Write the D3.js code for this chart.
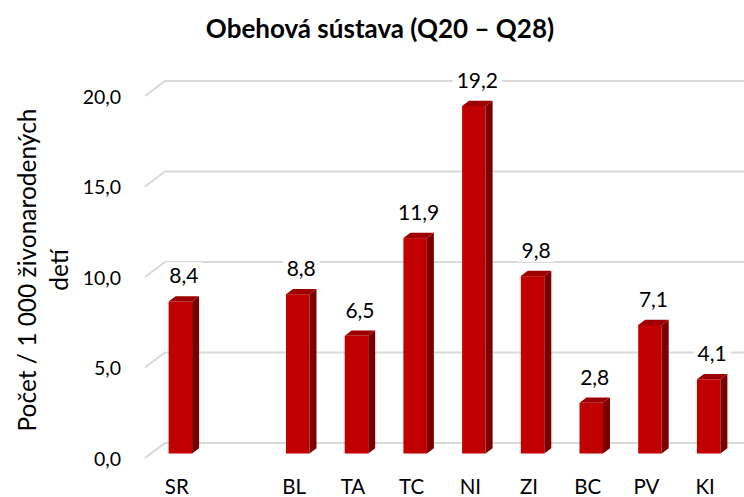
<!DOCTYPE html>
<html>
<head>
<meta charset="utf-8">
<script src="https://cdn.jsdelivr.net/npm/d3@7"></script>
<style>
  body { margin: 0; background: #fff; }
  text { font-family: Lato, "Open Sans", sans-serif; fill: #000; }
</style>
</head>
<body>
<div id="chart"></div>
<script>
// data
var categories = ["SR", "", "BL", "TA", "TC", "NI", "ZI", "BC", "PV", "KI"];
var values = [8.4, null, 8.8, 6.5, 11.9, 19.2, 9.8, 2.8, 7.1, 4.1];
var yTicks = [0, 5, 10, 15, 20];
var titleText = "Obehová sústava (Q20 – Q28)";
var yTitleLines = ["Počet / 1 000 živonarodených", "detí"];

var width = 744, height = 497;
var depth = {dx: 20, dy: -15}; // 3d floor offset
var barZ0 = 0.3, barZ1 = 0.65;  // bar sits between these depth fractions

var svg = d3.select("#chart").append("svg")
    .attr("width", width)
    .attr("height", height);

var y = d3.scaleLinear().domain([0, 20]).range([458, 96]);
var x = d3.scaleBand().domain(categories).range([145, 732])
    .paddingInner(0.6).paddingOuter(0.3);

var fmt = function(v) { return d3.format(".1f")(v).replace(".", ","); };

// title
svg.append("text")
    .attr("x", 380).attr("y", 38)
    .attr("text-anchor", "middle")
    .style("font-size", "26px").style("font-weight", "bold")
    .text(titleText);

// gridlines on the back wall, with the slanted side wall segment
var grid = svg.append("g").attr("class", "grid");
yTicks.forEach(function(t) {
    var yf = y(t);
    grid.append("polyline")
        .attr("points", [[145, yf], [145 + depth.dx, yf + depth.dy], [width, yf + depth.dy]].join(" "))
        .attr("fill", "none")
        .attr("stroke", "#D9D9D9")
        .attr("stroke-width", 2);
});

// y tick labels
svg.append("g").selectAll("text").data(yTicks).enter().append("text")
    .attr("x", 121)
    .attr("y", function(d) { return y(d) + 7.5; })
    .attr("text-anchor", "end")
    .style("font-size", "19.5px")
    .text(fmt);

// y axis title
var yt = svg.append("text")
    .attr("transform", "translate(0,270) rotate(-90)")
    .attr("text-anchor", "middle")
    .style("font-size", "24.5px");
yt.selectAll("tspan").data(yTitleLines).enter().append("tspan")
    .attr("x", 0)
    .attr("y", function(d, i) { return i === 0 ? 36 : 68; })
    .text(function(d) { return d; });

// bars
var data = categories.map(function(c, i) { return {cat: c, v: values[i]}; })
    .filter(function(d) { return d.v != null; });

var bdx = (barZ1 - barZ0) * depth.dx, bdy = (barZ1 - barZ0) * depth.dy;
var ox = barZ0 * depth.dx, oy = barZ0 * depth.dy;
var bw = x.bandwidth();

var bars = svg.append("g").selectAll("g").data(data).enter().append("g");

bars.each(function(d) {
    var g = d3.select(this);
    var x0 = x(d.cat) + ox, x1 = x0 + bw;
    var base = y(0) + oy, top = y(d.v) + oy;
    g.append("rect")
        .attr("x", x0).attr("y", top)
        .attr("width", bw).attr("height", base - top)
        .attr("fill", "#C00000");
    g.append("polygon")
        .attr("points", [[x1, top], [x1 + bdx, top + bdy], [x1 + bdx, base + bdy], [x1, base]].join(" "))
        .attr("fill", "#7A0000");
    g.append("polygon")
        .attr("points", [[x0, top], [x0 + bdx, top + bdy], [x1 + bdx, top + bdy], [x1, top]].join(" "))
        .attr("fill", "#9C0000");
});

// value labels with white boxes (they cut the gridlines)
bars.each(function(d) {
    var g = d3.select(this);
    var cx = x(d.cat) + ox + bw / 2 + bdx / 2;
    var ty = y(d.v) + oy + bdy - 13;
    var t = g.append("text")
        .attr("x", cx).attr("y", ty)
        .attr("text-anchor", "middle")
        .style("font-size", "21px")
        .text(fmt(d.v));
    var bb = t.node().getBBox();
    g.insert("rect", "text")
        .attr("x", bb.x - 4).attr("y", bb.y)
        .attr("width", bb.width + 8).attr("height", bb.height)
        .attr("fill", "#fff");
});

// category labels
svg.append("g").selectAll("text").data(categories).enter().append("text")
    .attr("x", function(d) { return x(d) + bw / 2 + 2.5; })
    .attr("y", 494)
    .attr("text-anchor", "middle")
    .style("font-size", "20.5px")
    .text(function(d) { return d; });
</script>
</body>
</html>
